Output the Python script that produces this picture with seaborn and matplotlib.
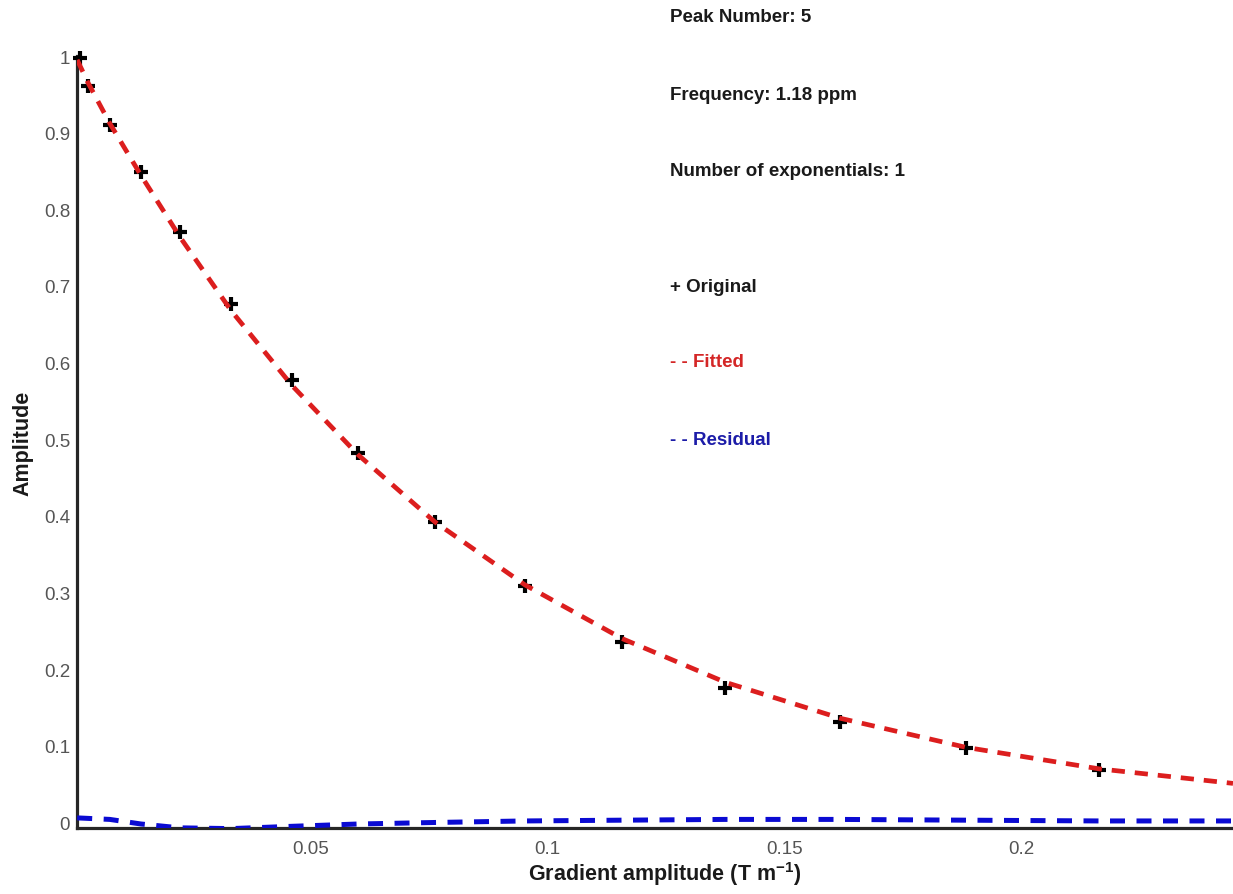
import numpy as np
import pandas as pd
import matplotlib
matplotlib.use('Agg')
import matplotlib.pyplot as plt
import seaborn as sns

# ── Data ────────────────────────────────────────────────────────────────────
gradient = [0.0012, 0.0029, 0.0075, 0.0141, 0.0223, 0.0331, 0.0460, 0.0599,
            0.0762, 0.0952, 0.1157, 0.1375, 0.1618, 0.1884, 0.2165]
original = [0.998, 0.961, 0.910, 0.849, 0.770, 0.677, 0.577, 0.482,
            0.392, 0.308, 0.236, 0.176, 0.131, 0.097, 0.068]

fit_x = [0.0006, 0.0029, 0.0075, 0.0141, 0.0223, 0.0331, 0.0460, 0.0599,
         0.0762, 0.0952, 0.1157, 0.1375, 0.1618, 0.1884, 0.2165, 0.2448]
fit_y = [0.995, 0.965, 0.912, 0.844, 0.764, 0.668, 0.570, 0.480,
         0.392, 0.310, 0.240, 0.183, 0.136, 0.098, 0.070, 0.051]

resid_x = [0.0006, 0.0075, 0.0141, 0.0223, 0.0331, 0.0460, 0.0599, 0.0762,
           0.0952, 0.1157, 0.1375, 0.1618, 0.1884, 0.2165, 0.2448]
resid_y = [0.006, 0.004, -0.002, -0.007, -0.008, -0.005, -0.002, 0.000,
           0.002, 0.003, 0.004, 0.004, 0.003, 0.002, 0.002]

x_ticks = [0.05, 0.1, 0.15, 0.2]
x_ticklabels = ['0.05', '0.1', '0.15', '0.2']
y_ticks = [0, 0.1, 0.2, 0.3, 0.4, 0.5, 0.6, 0.7, 0.8, 0.9, 1.0]
y_ticklabels = ['0', '0.1', '0.2', '0.3', '0.4', '0.5', '0.6', '0.7', '0.8', '0.9', '1']

info_lines = ['Peak Number: 5', 'Frequency: 1.18 ppm', 'Number of exponentials: 1']
legend_lines = ['+ Original', '- - Fitted', '- - Residual']

# ── Style ───────────────────────────────────────────────────────────────────
sns.set_theme(style='white')
plt.rcParams.update({
    'font.family':       ['Liberation Sans', 'DejaVu Sans'],
    'mathtext.fontset':  'custom',
    'mathtext.rm':       'Liberation Sans',
    'mathtext.bf':       'Liberation Sans:bold',
    'axes.edgecolor':    '#262626',
    'axes.linewidth':    2.3,
    'xtick.color':       '#262626',
    'ytick.color':       '#262626',
    'xtick.labelcolor':  '#555555',
    'ytick.labelcolor':  '#555555',
})
RED = '#dc1e1e'
BLUE = '#0a0ad2'

orig_df = pd.DataFrame({'g': gradient, 'amp': original})
fit_df = pd.DataFrame({'g': fit_x, 'amp': fit_y})
res_df = pd.DataFrame({'g': resid_x, 'amp': resid_y})

fig = plt.figure(figsize=(12.33, 8.95), dpi=100)
ax = fig.add_axes([77 / 1233, 66 / 895, 1156 / 1233, 772 / 895])

sns.scatterplot(data=orig_df, x='g', y='amp', ax=ax, marker='+', s=110,
                color='black', linewidth=3.0, zorder=3, clip_on=False)
sns.lineplot(data=res_df, x='g', y='amp', ax=ax, color=BLUE, lw=3.6, zorder=4,
             errorbar=None)
res_line = ax.lines[-1]
sns.lineplot(data=fit_df, x='g', y='amp', ax=ax, color=RED, lw=3.4, zorder=5,
             errorbar=None)
fit_line = ax.lines[-1]

# dash patterns (on, off) in multiples of the line width, like MATLAB '--'
res_line.set_dashes([3.0, 2.3])
fit_line.set_dashes([2.8, 2.1])

ax.set_xlim(0.00056, 0.2448)
ax.set_ylim(-0.0072, 1.0)
sns.despine(ax=ax)
ax.set_xticks(x_ticks)
ax.set_xticklabels(x_ticklabels)
ax.set_yticks(y_ticks)
ax.set_yticklabels(y_ticklabels)
ax.tick_params(axis='both', direction='in', length=7, width=2.2, labelsize=13.5)
ax.tick_params(axis='y', pad=5)
ax.tick_params(axis='x', pad=9)

ax.set_ylabel('Amplitude', fontsize=15.5, fontweight='bold', color='#1a1a1a')
ax.yaxis.set_label_coords(-44 / 1156, 0.5)
ax.set_xlabel(r'Gradient amplitude (T m$^{\mathbf{-1}}$)', fontsize=15.5,
              fontweight='bold', color='#1a1a1a')
ax.xaxis.set_label_coords((665 - 77) / 1156, -31 / 772)

# ── Text block at the top right ─────────────────────────────────────────────
for txt, ypix in zip(info_lines, [18, 95, 172]):
    fig.text(670 / 1233, 1 - ypix / 895, txt, fontsize=13.5, fontweight='bold',
             color='#1a1a1a', va='center', ha='left')
for txt, ypix, col in zip(legend_lines, [287, 363, 441], ['#1a1a1a', '#d42626', '#1c1ca8']):
    fig.text(670 / 1233, 1 - ypix / 895, txt, fontsize=13.5, fontweight='bold',
             color=col, va='center', ha='left')

fig.savefig('out.png', dpi=100)
plt.close()
